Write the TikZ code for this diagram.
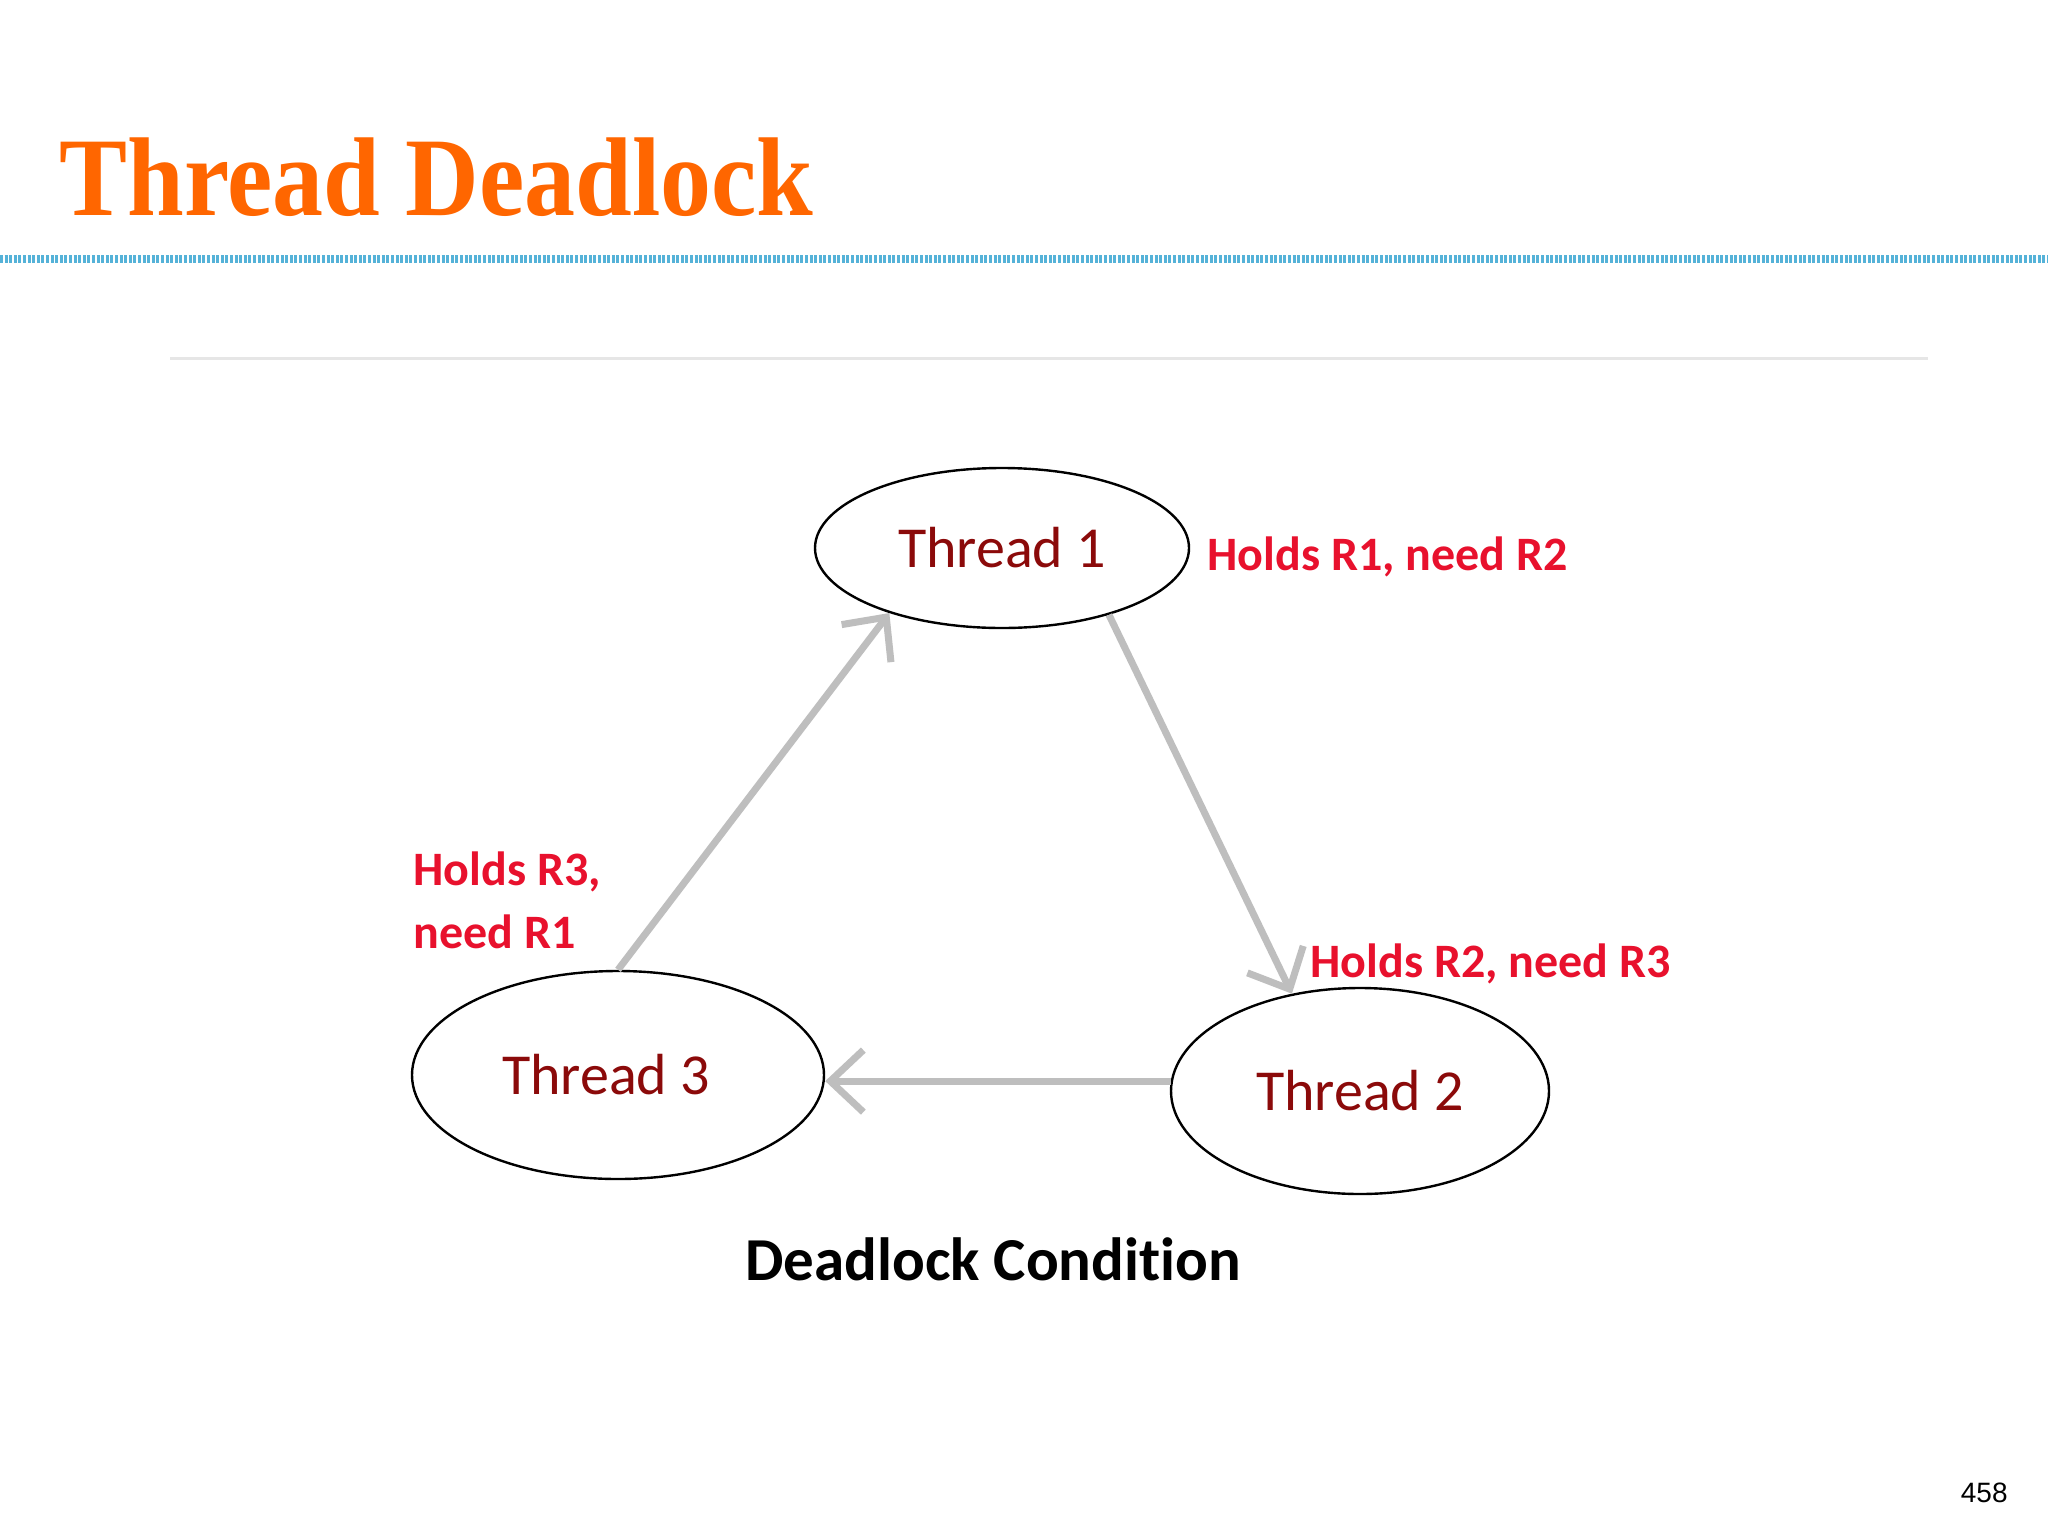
\documentclass[tikz,border=0pt]{standalone}
\usepackage{fontspec}
\setmainfont[Ligatures=NoCommon]{Carlito}
\newfontfamily\titlefont[FakeStretch=0.91]{Liberation Serif}
\newfontfamily\numfont{Liberation Sans}
\usetikzlibrary{arrows.meta,shapes.geometric}
\definecolor{titleorange}{HTML}{FF6600}
\definecolor{threadred}{HTML}{8B0A0A}
\definecolor{labelred}{HTML}{E8112D}
\definecolor{arrowgray}{HTML}{BEBEBE}
\definecolor{ruleblue}{HTML}{55B2D8}
\definecolor{rulegray}{HTML}{E6E6E6}
\tikzset{
  thread/.style={ellipse, draw=black, line width=1.2pt, inner sep=0pt,
    text=threadred, font=\fontsize{29}{34}\selectfont},
  lbl/.style={inner sep=0pt, text=labelred, font=\bfseries\fontsize{24}{28}\selectfont},
  flow/.style={draw=arrowgray, line width=3.5pt,
    -{Straight Barb[length=16.5pt, width=31pt]}},
}
\begin{document}
\begin{tikzpicture}[x=0.5pt, y=-0.5pt]
\fill[white] (0,0) rectangle (2048,1536);
\useasboundingbox (0,0) rectangle (2048,1536);

% title and rules
\node[anchor=base west, inner sep=0pt, text=titleorange] (title) at (59,215)
  {\titlefont\bfseries\fontsize{56}{60}\selectfont Thread Deadlock};
\draw[ruleblue, line width=4pt, dash pattern=on 1.5pt off 0.8pt] (0,259) -- (2048,259);
\draw[rulegray, line width=1.5pt] (170,358) -- (1928,358);

% threads
\node[thread, minimum width=187pt, minimum height=80pt] (t1) at (1002,548) {Thread 1};
\node[thread, minimum width=206pt, minimum height=104pt] (t3) at (618,1075) {\hspace*{-12pt}Thread 3};
\node[thread, minimum width=189pt, minimum height=103pt] (t2) at (1360,1091) {Thread 2};

% labels
\node[lbl, anchor=base west] (l1) at (1207,570) {Holds R1, need R2};
\node[lbl, anchor=base west] (l2) at (1310,977) {Holds R2, need R3};
\node[lbl, anchor=base west] (l3a) at (413,885) {Holds R3,};
\node[lbl, anchor=base west] (l3b) at (413,948) {need R1};

% arrows
\draw[flow] (t3.north) -- (t1.210);
\draw[flow] (t1.328) -- (t2.125);
\draw[flow] (t2.177) -- (t2.177 -| t3.east);

% caption and page number
\node[anchor=base west, inner sep=0pt, font=\bfseries\fontsize{30.5}{34}\selectfont] (cap) at (745,1280) {Deadlock Condition};
\node[anchor=base east, inner sep=0pt] (pg) at (2008,1502) {\numfont\fontsize{14}{16}\selectfont 458};
\end{tikzpicture}
\end{document}
